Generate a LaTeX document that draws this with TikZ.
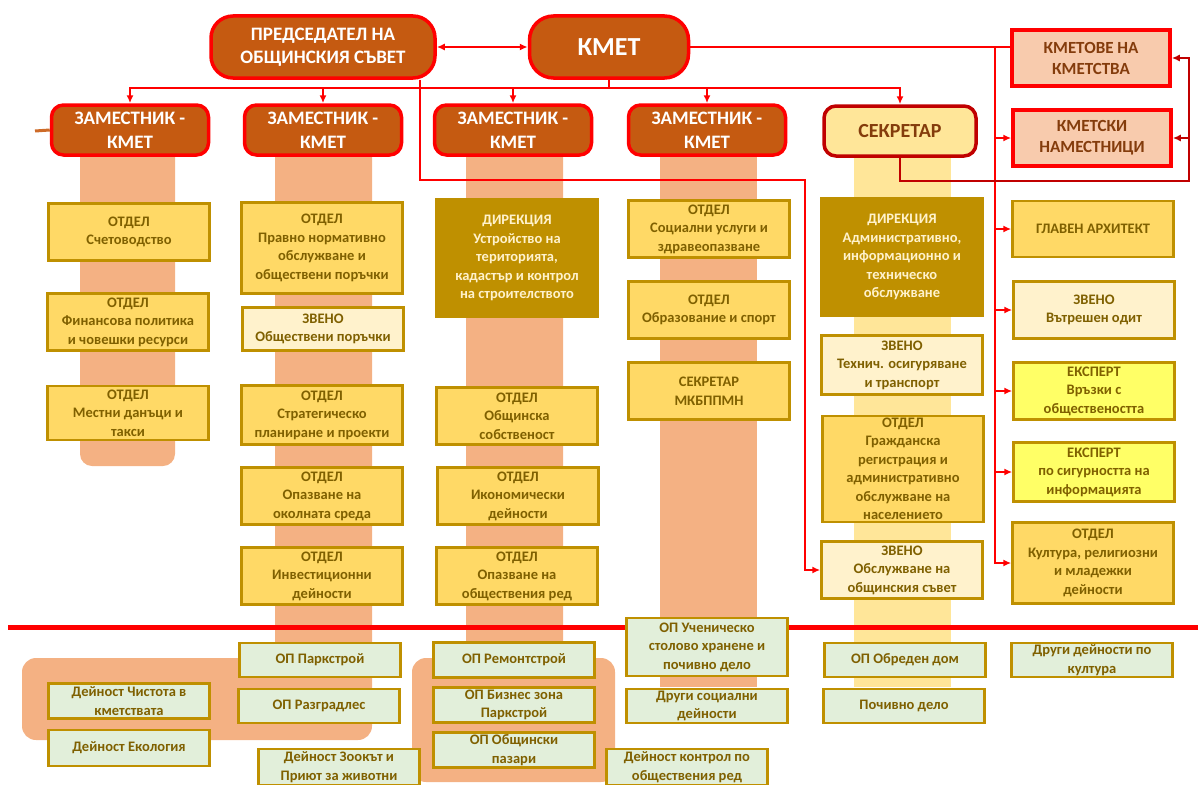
\documentclass[tikz,border=0pt]{standalone}
\usepackage{fontspec}
\setmainfont{Carlito}
\usetikzlibrary{arrows.meta}

\definecolor{rust}{HTML}{C55A11}
\definecolor{darkrust}{HTML}{843C0C}
\definecolor{darkred}{HTML}{C00000}
\definecolor{cream}{HTML}{FFE699}
\definecolor{pinkbox}{HTML}{F8CBAD}
\definecolor{salmon}{HTML}{F4B183}
\definecolor{goldbox}{HTML}{FFD966}
\definecolor{ochre}{HTML}{BF9000}
\definecolor{paleyellow}{HTML}{FFF2CC}
\definecolor{lemon}{HTML}{FFFF66}
\definecolor{palegreen}{HTML}{E2EFDA}
\definecolor{boxtext}{HTML}{7F6000}

\tikzstyle{head}=[rectangle,rounded corners=22pt,fill=rust,draw=red,line width=3.5pt,text=white,align=center,inner sep=0pt,font=\fontsize{19}{23}\selectfont\bfseries]
\tikzstyle{deputy}=[head,rounded corners=12pt,minimum width=157pt,minimum height=50pt,font=\fontsize{19}{24}\selectfont\bfseries]
\tikzstyle{secbox}=[deputy,fill=cream,draw=darkred,text=darkrust,font=\fontsize{20}{24}\selectfont\bfseries]
\tikzstyle{village}=[rectangle,fill=pinkbox,draw=red,line width=3.5pt,text=darkrust,align=center,inner sep=0pt,minimum width=158pt,minimum height=56pt,font=\fontsize{17}{21}\selectfont\bfseries]
\tikzstyle{dept}=[rectangle,fill=goldbox,draw=ochre,line width=2.5pt,text=boxtext,align=center,inner sep=0pt,minimum width=161pt,minimum height=57pt,font=\fontsize{14.5}{18.5}\selectfont\bfseries]
\tikzstyle{unit}=[dept,fill=paleyellow]
\tikzstyle{direction}=[dept,fill=ochre,text=paleyellow,minimum height=118pt]
\tikzstyle{expert}=[dept,fill=lemon]
\tikzstyle{firm}=[dept,fill=palegreen,minimum height=34pt]
\tikzstyle{link}=[red,line width=1.8pt,-{Latex[length=8pt,width=7pt]}]
\tikzstyle{backlink}=[link,darkred]
\tikzstyle{bar}=[fill=salmon]

\begin{document}
\begin{tikzpicture}[x=1pt,y=-1pt]
    \useasboundingbox (0,0) rectangle (1198,784);

    % columns behind the boxes
    \fill[bar,rounded corners=12pt] (80,140) rectangle (175,466);
    \fill[bar,rounded corners=14pt] (275,140) -- (372,140) -- (372,740) -- (22,740) -- (22,658) -- (275,658) -- cycle;
    \fill[bar,rounded corners=14pt] (466,140) -- (563,140) -- (563,658) -- (615,658) -- (615,782) -- (412,782) -- (412,658) -- (466,658) -- cycle;
    \fill[bar] (660,140) rectangle (757,687);
    \fill[cream] (854,150) rectangle (951,687);

    \coordinate (sepL) at (8,627);
    \coordinate (sepR) at (1198,627);
    \draw[red,line width=5pt] (sepL) -- (sepR);

    % top
    \node[head,minimum width=224pt,minimum height=62pt] (chair) at (323,47) {ПРЕДСЕДАТЕЛ НА\\ОБЩИНСКИЯ СЪВЕТ};
    \node[head,rounded corners=24pt,minimum width=159pt,minimum height=62pt,font=\fontsize{26}{30}\selectfont\bfseries] (mayor) at (609,47) {КМЕТ};
    \node[village] (villages) at (1091,58) {КМЕТОВЕ НА\\КМЕТСТВА};
    \node[village] (deputies) at (1092,138) {КМЕТСКИ\\НАМЕСТНИЦИ};

    \node[deputy] (dep1) at (130,130) {ЗАМЕСТНИК -\\КМЕТ};
    \node[deputy] (dep2) at (323,130) {ЗАМЕСТНИК -\\КМЕТ};
    \node[deputy] (dep3) at (513,130) {ЗАМЕСТНИК -\\КМЕТ};
    \node[deputy] (dep4) at (707,130) {ЗАМЕСТНИК -\\КМЕТ};
    \node[secbox,minimum width=152pt] (secretary) at (900,131) {СЕКРЕТАР};

    % first deputy
    \node[dept] (c1a) at (129,232) {ОТДЕЛ\\Счетоводство};
    \node[dept] (c1b) at (128,322) {ОТДЕЛ\\Финансова политика\\и човешки ресурси};
    \node[dept,minimum height=54pt] (c1c) at (128,413) {ОТДЕЛ\\Местни данъци и\\такси};

    % second deputy
    \node[dept,minimum height=91pt] (c2a) at (322,248) {ОТДЕЛ\\Правно нормативно\\обслужване и\\обществени поръчки};
    \node[unit,minimum height=43pt] (c2b) at (323,329) {ЗВЕНО\\Обществени поръчки};
    \node[dept,minimum height=59pt] (c2c) at (322,415) {ОТДЕЛ\\Стратегическо\\планиране и проекти};
    \node[dept] (c2d) at (322,496) {ОТДЕЛ\\Опазване на\\околната среда};
    \node[dept] (c2e) at (322,576) {ОТДЕЛ\\Инвестиционни\\дейности};

    % third deputy
    \node[direction] (c3a) at (517,258) {ДИРЕКЦИЯ\\Устройство на\\територията,\\кадастър и контрол\\на строителството};
    \node[dept] (c3b) at (517,416) {ОТДЕЛ\\Общинска\\собственост};
    \node[dept] (c3c) at (518,496) {ОТДЕЛ\\Икономически\\дейности};
    \node[dept] (c3d) at (517,576) {ОТДЕЛ\\Опазване на\\обществения ред};

    % fourth deputy
    \node[dept] (c4a) at (709,229) {ОТДЕЛ\\Социални услуги и\\здравеопазване};
    \node[dept] (c4b) at (709,310) {ОТДЕЛ\\Образование и спорт};
    \node[dept] (c4c) at (709,391) {СЕКРЕТАР\\МКБППМН};

    % secretary
    \node[direction] (c5a) at (902,257) {ДИРЕКЦИЯ\\Административно,\\информационно и\\техническо\\обслужване};
    \node[unit,minimum height=59pt] (c5b) at (902,365) {ЗВЕНО\\Технич. осигуряване\\и транспорт};
    \node[dept,minimum height=106pt] (c5c) at (903,469) {ОТДЕЛ\\Гражданска\\регистрация и\\административно\\обслужване на\\населението};
    \node[unit] (c5d) at (902,570) {ЗВЕНО\\Обслужване на\\общинския съвет};

    % under the mayor
    \node[dept,minimum height=56pt] (c6a) at (1093,229) {ГЛАВЕН АРХИТЕКТ};
    \node[unit] (c6b) at (1094,310) {ЗВЕНО\\Вътрешен одит};
    \node[expert] (c6c) at (1094,391) {ЕКСПЕРТ\\Връзки с\\обществеността};
    \node[expert,minimum height=59pt] (c6d) at (1094,472) {ЕКСПЕРТ\\по сигурността на\\информацията};
    \node[dept,minimum height=81pt] (c6e) at (1093,563) {ОТДЕЛ\\Култура, религиозни\\и младежки\\дейности};

    % municipal firms and activities
    \node[firm] (b2a) at (320,660) {ОП Паркстрой};
    \node[firm] (b2b) at (319,706) {ОП Разградлес};
    \node[firm,minimum height=35pt] (b1a) at (129,701) {Дейност Чистота в\\кметствата};
    \node[firm,minimum height=36pt] (b1b) at (129,748) {Дейност Екология};
    \node[firm,minimum height=36pt] (b2c) at (339,767) {Дейност Зоокът и\\Приют за животни};
    \node[firm,minimum height=35pt] (b3a) at (514,660) {ОП Ремонтстрой};
    \node[firm,minimum height=35pt] (b3b) at (514,705) {ОП Бизнес зона\\Паркстрой};
    \node[firm,minimum height=35pt] (b3c) at (514,750) {ОП Общински\\пазари};
    \node[firm,minimum height=36pt] (b3d) at (687,767) {Дейност контрол по\\обществения ред};
    \node[firm,minimum height=58pt] (b4a) at (707,647) {ОП Ученическо\\столово хранене и\\почивно дело};
    \node[firm] (b4b) at (707,706) {Други социални\\дейности};
    \node[firm] (b5a) at (905,660) {ОП Обреден дом};
    \node[firm] (b5b) at (904,706) {Почивно дело};
    \node[firm] (b6a) at (1092,660) {Други дейности по\\култура};

    % links
    \draw[link,{Latex[length=8pt,width=7pt]}-{Latex[length=8pt,width=7pt]}] (chair.east) -- (mayor.west);
    \foreach \d in {dep1,dep2,dep3,dep4,secretary}
        \draw[link] (mayor.south) -- ++(0,8) -| (\d.north);

    \coordinate (turn) at (805,180);
    \draw[link] ([xshift=97pt]chair.south) |- (turn) |- (c5d.west);

    \coordinate (trunk) at (995,47);
    \draw[red,line width=1.8pt] (mayor.east) -- (mayor.east -| villages.west);
    \foreach \t in {deputies,c6a,c6b,c6c,c6d,c6e}
        \draw[link] (trunk) |- (\t.west);

    \coordinate (loop) at (1189,181);
    \draw[backlink] (secretary.south) |- (loop) |- (villages.east);
    \draw[backlink] (loop) |- (deputies.east);

    \coordinate (stub) at (35,131);
    \draw[rust!80!salmon,line width=3pt] (stub) -- (dep1.west);
\end{tikzpicture}
\end{document}
